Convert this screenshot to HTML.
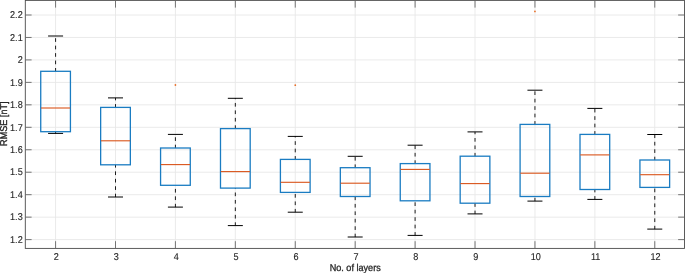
<!DOCTYPE html>
<html><head><meta charset="utf-8"><title>Boxplot</title>
<style>html,body{margin:0;padding:0;background:#fff}svg{display:block;will-change:transform}</style>
</head><body>
<svg width="685" height="273" viewBox="0 0 685 273" font-family="'Liberation Sans', Arial, Helvetica, sans-serif" font-size="9.9" fill="#262626" text-rendering="geometricPrecision">
<rect width="685" height="273" fill="#fff"/>
<g stroke="#e8e8e8" stroke-width="0.9" fill="none">
<line x1="55.58" y1="0.4" x2="55.58" y2="248.4"/>
<line x1="115.50" y1="0.4" x2="115.50" y2="248.4"/>
<line x1="175.42" y1="0.4" x2="175.42" y2="248.4"/>
<line x1="235.34" y1="0.4" x2="235.34" y2="248.4"/>
<line x1="295.26" y1="0.4" x2="295.26" y2="248.4"/>
<line x1="355.18" y1="0.4" x2="355.18" y2="248.4"/>
<line x1="415.10" y1="0.4" x2="415.10" y2="248.4"/>
<line x1="475.02" y1="0.4" x2="475.02" y2="248.4"/>
<line x1="534.94" y1="0.4" x2="534.94" y2="248.4"/>
<line x1="594.86" y1="0.4" x2="594.86" y2="248.4"/>
<line x1="654.78" y1="0.4" x2="654.78" y2="248.4"/>
<line x1="25.3" y1="239.60" x2="684.45" y2="239.60"/>
<line x1="25.3" y1="217.14" x2="684.45" y2="217.14"/>
<line x1="25.3" y1="194.68" x2="684.45" y2="194.68"/>
<line x1="25.3" y1="172.22" x2="684.45" y2="172.22"/>
<line x1="25.3" y1="149.76" x2="684.45" y2="149.76"/>
<line x1="25.3" y1="127.30" x2="684.45" y2="127.30"/>
<line x1="25.3" y1="104.84" x2="684.45" y2="104.84"/>
<line x1="25.3" y1="82.38" x2="684.45" y2="82.38"/>
<line x1="25.3" y1="59.92" x2="684.45" y2="59.92"/>
<line x1="25.3" y1="37.46" x2="684.45" y2="37.46"/>
<line x1="25.3" y1="15.00" x2="684.45" y2="15.00"/>
</g>
<g fill="none">
<line x1="55.58" y1="71.3" x2="55.58" y2="36.0" stroke="#111" stroke-width="0.95" stroke-dasharray="3.7,3.75" stroke-dashoffset="0.4"/>
<line x1="55.58" y1="133.4" x2="55.58" y2="131.7" stroke="#111" stroke-width="0.95" stroke-dasharray="3.7,3.75" stroke-dashoffset="0.4"/>
<line x1="48.08" y1="36.0" x2="63.08" y2="36.0" stroke="#000" stroke-width="1"/>
<line x1="48.08" y1="133.4" x2="63.08" y2="133.4" stroke="#000" stroke-width="1"/>
<rect x="40.73" y="71.3" width="29.7" height="60.40" stroke="#1a7cc2" stroke-width="1.3"/>
<line x1="40.98" y1="108.0" x2="70.18" y2="108.0" stroke="#D95319" stroke-width="1.1"/>
</g>
<g fill="none">
<line x1="115.50" y1="107.4" x2="115.50" y2="97.9" stroke="#111" stroke-width="0.95" stroke-dasharray="3.7,3.75" stroke-dashoffset="0.4"/>
<line x1="115.50" y1="197.0" x2="115.50" y2="164.8" stroke="#111" stroke-width="0.95" stroke-dasharray="3.7,3.75" stroke-dashoffset="0.4"/>
<line x1="108.00" y1="97.9" x2="123.00" y2="97.9" stroke="#000" stroke-width="1"/>
<line x1="108.00" y1="197.0" x2="123.00" y2="197.0" stroke="#000" stroke-width="1"/>
<rect x="100.65" y="107.4" width="29.7" height="57.40" stroke="#1a7cc2" stroke-width="1.3"/>
<line x1="100.90" y1="140.8" x2="130.10" y2="140.8" stroke="#D95319" stroke-width="1.1"/>
</g>
<g fill="none">
<line x1="175.42" y1="148.0" x2="175.42" y2="134.4" stroke="#111" stroke-width="0.95" stroke-dasharray="3.7,3.75" stroke-dashoffset="0.4"/>
<line x1="175.42" y1="207.1" x2="175.42" y2="185.3" stroke="#111" stroke-width="0.95" stroke-dasharray="3.7,3.75" stroke-dashoffset="0.4"/>
<line x1="167.92" y1="134.4" x2="182.92" y2="134.4" stroke="#000" stroke-width="1"/>
<line x1="167.92" y1="207.1" x2="182.92" y2="207.1" stroke="#000" stroke-width="1"/>
<rect x="160.57" y="148.0" width="29.7" height="37.30" stroke="#1a7cc2" stroke-width="1.3"/>
<line x1="160.82" y1="164.6" x2="190.02" y2="164.6" stroke="#D95319" stroke-width="1.1"/>
<circle cx="175.42" cy="85.0" r="0.9" fill="#e8702a" stroke="none"/>
</g>
<g fill="none">
<line x1="235.34" y1="128.6" x2="235.34" y2="98.3" stroke="#111" stroke-width="0.95" stroke-dasharray="3.7,3.75" stroke-dashoffset="0.4"/>
<line x1="235.34" y1="225.6" x2="235.34" y2="188.1" stroke="#111" stroke-width="0.95" stroke-dasharray="3.7,3.75" stroke-dashoffset="0.4"/>
<line x1="227.84" y1="98.3" x2="242.84" y2="98.3" stroke="#000" stroke-width="1"/>
<line x1="227.84" y1="225.6" x2="242.84" y2="225.6" stroke="#000" stroke-width="1"/>
<rect x="220.49" y="128.6" width="29.7" height="59.50" stroke="#1a7cc2" stroke-width="1.3"/>
<line x1="220.74" y1="171.6" x2="249.94" y2="171.6" stroke="#D95319" stroke-width="1.1"/>
</g>
<g fill="none">
<line x1="295.26" y1="159.4" x2="295.26" y2="136.4" stroke="#111" stroke-width="0.95" stroke-dasharray="3.7,3.75" stroke-dashoffset="0.4"/>
<line x1="295.26" y1="212.2" x2="295.26" y2="192.4" stroke="#111" stroke-width="0.95" stroke-dasharray="3.7,3.75" stroke-dashoffset="0.4"/>
<line x1="287.76" y1="136.4" x2="302.76" y2="136.4" stroke="#000" stroke-width="1"/>
<line x1="287.76" y1="212.2" x2="302.76" y2="212.2" stroke="#000" stroke-width="1"/>
<rect x="280.41" y="159.4" width="29.7" height="33.00" stroke="#1a7cc2" stroke-width="1.3"/>
<line x1="280.66" y1="182.3" x2="309.86" y2="182.3" stroke="#D95319" stroke-width="1.1"/>
<circle cx="295.26" cy="85.2" r="0.9" fill="#e8702a" stroke="none"/>
</g>
<g fill="none">
<line x1="355.18" y1="167.7" x2="355.18" y2="156.3" stroke="#111" stroke-width="0.95" stroke-dasharray="3.7,3.75" stroke-dashoffset="0.4"/>
<line x1="355.18" y1="237.0" x2="355.18" y2="196.5" stroke="#111" stroke-width="0.95" stroke-dasharray="3.7,3.75" stroke-dashoffset="0.4"/>
<line x1="347.68" y1="156.3" x2="362.68" y2="156.3" stroke="#000" stroke-width="1"/>
<line x1="347.68" y1="237.0" x2="362.68" y2="237.0" stroke="#000" stroke-width="1"/>
<rect x="340.33" y="167.7" width="29.7" height="28.80" stroke="#1a7cc2" stroke-width="1.3"/>
<line x1="340.58" y1="183.2" x2="369.78" y2="183.2" stroke="#D95319" stroke-width="1.1"/>
</g>
<g fill="none">
<line x1="415.10" y1="163.6" x2="415.10" y2="145.2" stroke="#111" stroke-width="0.95" stroke-dasharray="3.7,3.75" stroke-dashoffset="0.4"/>
<line x1="415.10" y1="235.4" x2="415.10" y2="200.8" stroke="#111" stroke-width="0.95" stroke-dasharray="3.7,3.75" stroke-dashoffset="0.4"/>
<line x1="407.60" y1="145.2" x2="422.60" y2="145.2" stroke="#000" stroke-width="1"/>
<line x1="407.60" y1="235.4" x2="422.60" y2="235.4" stroke="#000" stroke-width="1"/>
<rect x="400.25" y="163.6" width="29.7" height="37.20" stroke="#1a7cc2" stroke-width="1.3"/>
<line x1="400.50" y1="169.4" x2="429.70" y2="169.4" stroke="#D95319" stroke-width="1.1"/>
</g>
<g fill="none">
<line x1="475.02" y1="156.2" x2="475.02" y2="131.9" stroke="#111" stroke-width="0.95" stroke-dasharray="3.7,3.75" stroke-dashoffset="0.4"/>
<line x1="475.02" y1="213.9" x2="475.02" y2="203.2" stroke="#111" stroke-width="0.95" stroke-dasharray="3.7,3.75" stroke-dashoffset="0.4"/>
<line x1="467.52" y1="131.9" x2="482.52" y2="131.9" stroke="#000" stroke-width="1"/>
<line x1="467.52" y1="213.9" x2="482.52" y2="213.9" stroke="#000" stroke-width="1"/>
<rect x="460.17" y="156.2" width="29.7" height="47.00" stroke="#1a7cc2" stroke-width="1.3"/>
<line x1="460.42" y1="183.6" x2="489.62" y2="183.6" stroke="#D95319" stroke-width="1.1"/>
</g>
<g fill="none">
<line x1="534.94" y1="124.4" x2="534.94" y2="90.2" stroke="#111" stroke-width="0.95" stroke-dasharray="3.7,3.75" stroke-dashoffset="0.4"/>
<line x1="534.94" y1="201.1" x2="534.94" y2="196.5" stroke="#111" stroke-width="0.95" stroke-dasharray="3.7,3.75" stroke-dashoffset="0.4"/>
<line x1="527.44" y1="90.2" x2="542.44" y2="90.2" stroke="#000" stroke-width="1"/>
<line x1="527.44" y1="201.1" x2="542.44" y2="201.1" stroke="#000" stroke-width="1"/>
<rect x="520.09" y="124.4" width="29.7" height="72.10" stroke="#1a7cc2" stroke-width="1.3"/>
<line x1="520.34" y1="173.2" x2="549.54" y2="173.2" stroke="#D95319" stroke-width="1.1"/>
<circle cx="534.94" cy="11.4" r="0.9" fill="#e8702a" stroke="none"/>
</g>
<g fill="none">
<line x1="594.86" y1="134.4" x2="594.86" y2="108.4" stroke="#111" stroke-width="0.95" stroke-dasharray="3.7,3.75" stroke-dashoffset="0.4"/>
<line x1="594.86" y1="199.4" x2="594.86" y2="189.5" stroke="#111" stroke-width="0.95" stroke-dasharray="3.7,3.75" stroke-dashoffset="0.4"/>
<line x1="587.36" y1="108.4" x2="602.36" y2="108.4" stroke="#000" stroke-width="1"/>
<line x1="587.36" y1="199.4" x2="602.36" y2="199.4" stroke="#000" stroke-width="1"/>
<rect x="580.01" y="134.4" width="29.7" height="55.10" stroke="#1a7cc2" stroke-width="1.3"/>
<line x1="580.26" y1="154.9" x2="609.46" y2="154.9" stroke="#D95319" stroke-width="1.1"/>
</g>
<g fill="none">
<line x1="654.78" y1="160.0" x2="654.78" y2="134.5" stroke="#111" stroke-width="0.95" stroke-dasharray="3.7,3.75" stroke-dashoffset="0.4"/>
<line x1="654.78" y1="229.1" x2="654.78" y2="187.4" stroke="#111" stroke-width="0.95" stroke-dasharray="3.7,3.75" stroke-dashoffset="0.4"/>
<line x1="647.28" y1="134.5" x2="662.28" y2="134.5" stroke="#000" stroke-width="1"/>
<line x1="647.28" y1="229.1" x2="662.28" y2="229.1" stroke="#000" stroke-width="1"/>
<rect x="639.93" y="160.0" width="29.7" height="27.40" stroke="#1a7cc2" stroke-width="1.3"/>
<line x1="640.18" y1="174.7" x2="669.38" y2="174.7" stroke="#D95319" stroke-width="1.1"/>
</g>
<g stroke="#4a4a4a" stroke-width="0.9" fill="none">
<rect x="25.3" y="0.4" width="659.1500000000001" height="248.0"/>
</g>
<g stroke="#666" stroke-width="0.9" fill="none">
<line x1="55.58" y1="248.4" x2="55.58" y2="241.20000000000002"/>
<line x1="55.58" y1="0.4" x2="55.58" y2="7.6000000000000005"/>
<line x1="115.50" y1="248.4" x2="115.50" y2="241.20000000000002"/>
<line x1="115.50" y1="0.4" x2="115.50" y2="7.6000000000000005"/>
<line x1="175.42" y1="248.4" x2="175.42" y2="241.20000000000002"/>
<line x1="175.42" y1="0.4" x2="175.42" y2="7.6000000000000005"/>
<line x1="235.34" y1="248.4" x2="235.34" y2="241.20000000000002"/>
<line x1="235.34" y1="0.4" x2="235.34" y2="7.6000000000000005"/>
<line x1="295.26" y1="248.4" x2="295.26" y2="241.20000000000002"/>
<line x1="295.26" y1="0.4" x2="295.26" y2="7.6000000000000005"/>
<line x1="355.18" y1="248.4" x2="355.18" y2="241.20000000000002"/>
<line x1="355.18" y1="0.4" x2="355.18" y2="7.6000000000000005"/>
<line x1="415.10" y1="248.4" x2="415.10" y2="241.20000000000002"/>
<line x1="415.10" y1="0.4" x2="415.10" y2="7.6000000000000005"/>
<line x1="475.02" y1="248.4" x2="475.02" y2="241.20000000000002"/>
<line x1="475.02" y1="0.4" x2="475.02" y2="7.6000000000000005"/>
<line x1="534.94" y1="248.4" x2="534.94" y2="241.20000000000002"/>
<line x1="534.94" y1="0.4" x2="534.94" y2="7.6000000000000005"/>
<line x1="594.86" y1="248.4" x2="594.86" y2="241.20000000000002"/>
<line x1="594.86" y1="0.4" x2="594.86" y2="7.6000000000000005"/>
<line x1="654.78" y1="248.4" x2="654.78" y2="241.20000000000002"/>
<line x1="654.78" y1="0.4" x2="654.78" y2="7.6000000000000005"/>
<line x1="25.3" y1="239.60" x2="31.6" y2="239.60"/>
<line x1="684.45" y1="239.60" x2="678.1500000000001" y2="239.60"/>
<line x1="25.3" y1="217.14" x2="31.6" y2="217.14"/>
<line x1="684.45" y1="217.14" x2="678.1500000000001" y2="217.14"/>
<line x1="25.3" y1="194.68" x2="31.6" y2="194.68"/>
<line x1="684.45" y1="194.68" x2="678.1500000000001" y2="194.68"/>
<line x1="25.3" y1="172.22" x2="31.6" y2="172.22"/>
<line x1="684.45" y1="172.22" x2="678.1500000000001" y2="172.22"/>
<line x1="25.3" y1="149.76" x2="31.6" y2="149.76"/>
<line x1="684.45" y1="149.76" x2="678.1500000000001" y2="149.76"/>
<line x1="25.3" y1="127.30" x2="31.6" y2="127.30"/>
<line x1="684.45" y1="127.30" x2="678.1500000000001" y2="127.30"/>
<line x1="25.3" y1="104.84" x2="31.6" y2="104.84"/>
<line x1="684.45" y1="104.84" x2="678.1500000000001" y2="104.84"/>
<line x1="25.3" y1="82.38" x2="31.6" y2="82.38"/>
<line x1="684.45" y1="82.38" x2="678.1500000000001" y2="82.38"/>
<line x1="25.3" y1="59.92" x2="31.6" y2="59.92"/>
<line x1="684.45" y1="59.92" x2="678.1500000000001" y2="59.92"/>
<line x1="25.3" y1="37.46" x2="31.6" y2="37.46"/>
<line x1="684.45" y1="37.46" x2="678.1500000000001" y2="37.46"/>
<line x1="25.3" y1="15.00" x2="31.6" y2="15.00"/>
<line x1="684.45" y1="15.00" x2="678.1500000000001" y2="15.00"/>
</g>
<g stroke="#262626" stroke-width="0.12">
<text transform="translate(56.38,259.8) scale(0.92,1)" text-anchor="middle">2</text>
<text transform="translate(116.30,259.8) scale(0.92,1)" text-anchor="middle">3</text>
<text transform="translate(176.22,259.8) scale(0.92,1)" text-anchor="middle">4</text>
<text transform="translate(236.14,259.8) scale(0.92,1)" text-anchor="middle">5</text>
<text transform="translate(296.06,259.8) scale(0.92,1)" text-anchor="middle">6</text>
<text transform="translate(355.98,259.8) scale(0.92,1)" text-anchor="middle">7</text>
<text transform="translate(415.90,259.8) scale(0.92,1)" text-anchor="middle">8</text>
<text transform="translate(475.82,259.8) scale(0.92,1)" text-anchor="middle">9</text>
<text transform="translate(535.74,259.8) scale(0.92,1)" text-anchor="middle">10</text>
<text transform="translate(595.66,259.8) scale(0.92,1)" text-anchor="middle">11</text>
<text transform="translate(655.58,259.8) scale(0.92,1)" text-anchor="middle">12</text>
<text transform="translate(22.7,242.85) scale(0.92,1)" text-anchor="end">1.2</text>
<text transform="translate(22.7,220.39) scale(0.92,1)" text-anchor="end">1.3</text>
<text transform="translate(22.7,197.93) scale(0.92,1)" text-anchor="end">1.4</text>
<text transform="translate(22.7,175.47) scale(0.92,1)" text-anchor="end">1.5</text>
<text transform="translate(22.7,153.01) scale(0.92,1)" text-anchor="end">1.6</text>
<text transform="translate(22.7,130.55) scale(0.92,1)" text-anchor="end">1.7</text>
<text transform="translate(22.7,108.09) scale(0.92,1)" text-anchor="end">1.8</text>
<text transform="translate(22.7,85.63) scale(0.92,1)" text-anchor="end">1.9</text>
<text transform="translate(22.7,63.17) scale(0.92,1)" text-anchor="end">2</text>
<text transform="translate(22.7,40.71) scale(0.92,1)" text-anchor="end">2.1</text>
<text transform="translate(22.7,18.25) scale(0.92,1)" text-anchor="end">2.2</text>
<text transform="translate(355.2,271.3) scale(0.92,1)" text-anchor="middle" stroke-width="0.3">No. of layers</text>
<text transform="translate(6.6,123.7) rotate(-90) scale(0.92,1)" text-anchor="middle" stroke-width="0.35">RMSE [nT]</text>
</g>
</svg>
</body></html>
